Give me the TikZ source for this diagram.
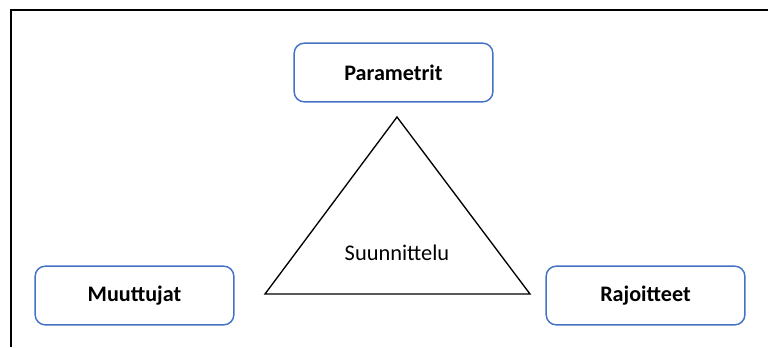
\documentclass[tikz,border=0pt]{standalone}
\usepackage{fontspec}
\setmainfont{Carlito}
\begin{document}
\begin{tikzpicture}[x=0.75pt,y=-0.75pt,
  topic/.style={draw=boxblue,line width=1.1pt,rounded corners=7.5pt,
    minimum width=149pt,minimum height=44pt,inner sep=0pt,
    font=\fontsize{16.6}{19}\selectfont\bfseries},
  frameline/.style={draw=black,line width=1.4pt}]
\definecolor{boxblue}{HTML}{4472C4}
\useasboundingbox (0,0) rectangle (768,347);
% partial frame
\draw[frameline] (11,347) -- (11,10) -- (768,10);
% the three topics
\node[topic] (param) at (393.5,72.5) {Parametrit};
\node[topic] (muut) at (134.5,295.5) {Muuttujat};
\node[topic] (raj) at (645.5,295.5) {Rajoitteet};
% central triangle
\coordinate (apex) at (397,117);
\coordinate (bl) at (265,294);
\coordinate (br) at (530,294);
\draw[line width=1pt,line join=miter] (apex) -- (bl) -- (br) -- cycle;
\node[font=\fontsize{16.8}{19}\selectfont] (design) at (397,253) {Suunnittelu};
\end{tikzpicture}
\end{document}
